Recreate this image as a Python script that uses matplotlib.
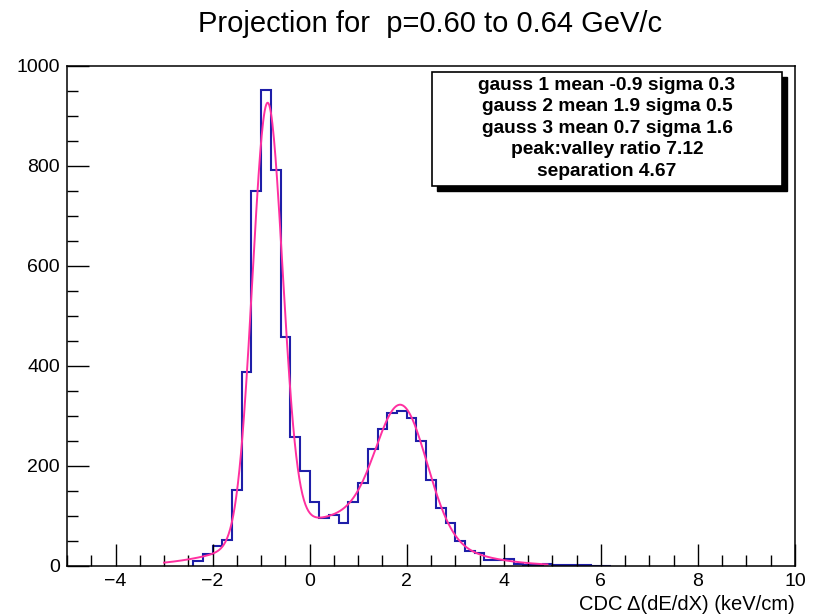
import numpy as np
import matplotlib
matplotlib.use('Agg')
import matplotlib.pyplot as plt
from matplotlib.patches import Rectangle
from matplotlib.ticker import MultipleLocator

plt.rcParams['font.family'] = ['Liberation Sans', 'DejaVu Sans']

# histogram: bins of 0.2 starting at -2.4
bin_start = -2.4
bin_width = 0.2
counts = [11, 24, 40, 52, 152, 389, 750, 953, 792, 459,
          259, 190, 129, 97, 102, 87, 129, 167, 234, 275,
          307, 310, 297, 251, 172, 117, 87, 50, 31, 27,
          13, 12, 14, 4, 3, 2, 5, 3, 3, 3,
          3, 0, 1]

# three gaussian fit, range -3 .. 4.9
fit_amp = [866, 248, 98]
fit_mean = [-0.87, 1.9, 0.7]
fit_sigma = [0.31, 0.52, 1.6]
fit_lo, fit_hi = -3.0, 4.9

title = "Projection for  p=0.60 to 0.64 GeV/c"
xlabel = "CDC \u0394(dE/dX) (keV/cm)"
info_lines = ["gauss 1 mean -0.9 sigma 0.3",
              "gauss 2 mean 1.9 sigma 0.5",
              "gauss 3 mean 0.7 sigma 1.6",
              "peak:valley ratio 7.12",
              "separation 4.67"]

W, H = 817, 615
fig = plt.figure(figsize=(W / 100, H / 100), dpi=100)
ax = fig.add_axes([67 / W, 1 - 566 / H, (795 - 67) / W, (566 - 66) / H])

edges = bin_start + bin_width * np.arange(len(counts) + 1)
ax.stairs(counts, edges, color='#1e1ea8', lw=1.5, baseline=0)

xf = np.linspace(fit_lo, fit_hi, 500)
yf = np.zeros_like(xf)
for a, m, s in zip(fit_amp, fit_mean, fit_sigma):
    yf += a * np.exp(-0.5 * ((xf - m) / s) ** 2)
ax.plot(xf, yf, color='#ff30a0', lw=1.4)

ax.set_xlim(-5, 10)
ax.set_ylim(0, 1000)
ax.xaxis.set_major_locator(MultipleLocator(2))
ax.xaxis.set_minor_locator(MultipleLocator(0.5))
ax.yaxis.set_major_locator(MultipleLocator(200))
ax.yaxis.set_minor_locator(MultipleLocator(50))
ax.tick_params(which='both', direction='in', top=False, right=False, width=1, labelsize=14)
ax.tick_params(which='major', length=16, pad=5)
ax.tick_params(which='minor', length=8)
for sp in ax.spines.values():
    sp.set_linewidth(1.1)

ax.set_xlabel(xlabel, fontsize=14.5, loc='right', labelpad=4)

fig.text(430 / W, 1 - 24 / H, title, fontsize=21, ha='center', va='center')

# stat box with shadow
bx0, bx1, by0, by1 = 432, 782, 72, 186
sh = 5
fig.patches.append(Rectangle(((bx0 + sh) / W, 1 - (by1 + sh) / H), (bx1 - bx0) / W, (by1 - by0) / H,
                             transform=fig.transFigure, facecolor='black', edgecolor='black', zorder=5))
fig.patches.append(Rectangle((bx0 / W, 1 - by1 / H), (bx1 - bx0) / W, (by1 - by0) / H,
                             transform=fig.transFigure, facecolor='white', edgecolor='black', lw=1.2, zorder=6))
line_y = [85, 106.7, 128.3, 150, 171.7]
for txt, yy in zip(info_lines, line_y):
    fig.text((bx0 + bx1) / 2 / W, 1 - yy / H, txt, fontsize=13.8, fontweight='bold',
             ha='center', va='center', zorder=7)

fig.savefig('out.png', dpi=100)
